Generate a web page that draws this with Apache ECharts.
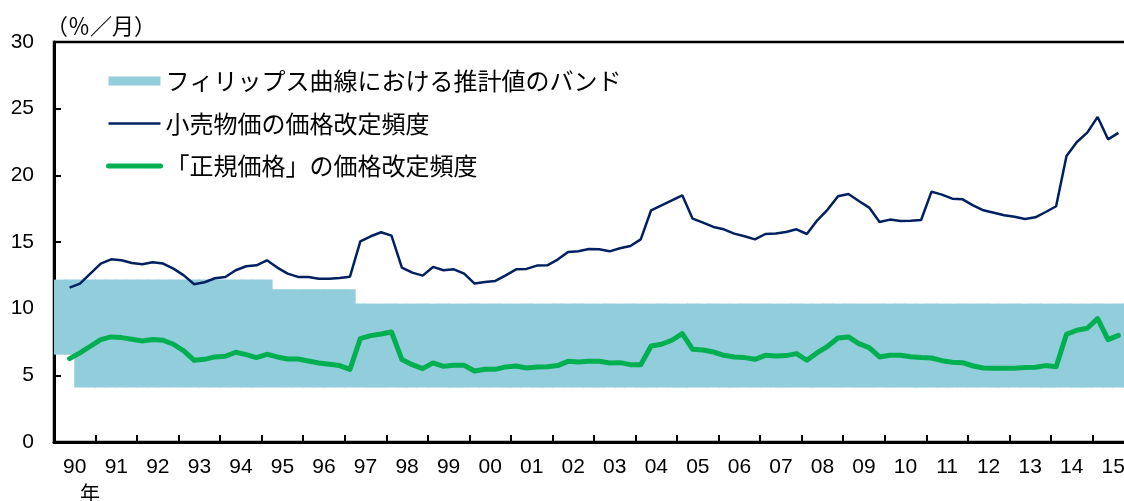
<!DOCTYPE html>
<html>
<head>
<meta charset="utf-8">
<script src="https://cdn.jsdelivr.net/npm/echarts@6/dist/echarts.min.js"></script>
<style>
html, body { margin: 0; padding: 0; background: #fff; }
#chart { width: 1124px; height: 501px; }
</style>
</head>
<body>
<div id="chart"></div>
<script>
// 年ラベル（横軸）
const yearLabels = ['90', '91', '92', '93', '94', '95', '96', '97', '98', '99',
  '00', '01', '02', '03', '04', '05', '06', '07', '08', '09',
  '10', '11', '12', '13', '14', '15']
// 四半期カテゴリ 1990Q1〜2015Q4
const quarters = []
for (let y = 1990; y <= 2015; y++) {
  for (let q = 1; q <= 4; q++) quarters.push(y + 'Q' + q)
}

// 小売物価の価格改定頻度（1990Q2〜2015Q3）
const retailFreq = [null,
  11.58, 11.88, 12.63, 13.38, 13.70, 13.63, 13.43, 13.33, 13.48, 13.38,
  13.0, 12.5, 11.83, 11.98, 12.28, 12.38, 12.88, 13.18, 13.25, 13.63,
  13.08, 12.63, 12.38, 12.38, 12.25, 12.25, 12.3, 12.4,
  15.05, 15.43, 15.73, 15.48, 13.08, 12.7, 12.48, 13.13, 12.88, 12.95,
  12.63, 11.88, 12.0, 12.08, 12.5, 12.95, 12.98, 13.23, 13.25, 13.68,
  14.25, 14.3, 14.48, 14.45, 14.3, 14.53, 14.7,
  15.2, 17.38, 17.75, 18.13, 18.5, 16.75, 16.45, 16.13, 15.95, 15.63,
  15.43, 15.2, 15.6, 15.63, 15.75, 15.95, 15.6, 16.63, 17.43, 18.43,
  18.6, 18.08, 17.58, 16.5, 16.68, 16.58, 16.6, 16.65, 18.78, 18.55,
  18.25, 18.2, 17.75, 17.38, 17.2, 17.0, 16.9, 16.73, 16.85, 17.25,
  17.68, 21.45, 22.5, 23.2, 24.38, 22.7, 23.18,
  null]

// 「正規価格」の価格改定頻度
const regularFreq = [null,
  6.25, 6.68, 7.18, 7.68, 7.88, 7.83, 7.7, 7.58, 7.68, 7.63,
  7.33, 6.83, 6.13, 6.2, 6.38, 6.43, 6.73, 6.55, 6.33, 6.58,
  6.38, 6.23, 6.23, 6.08, 5.93, 5.83, 5.73, 5.45, 7.76, 7.98,
  8.1, 8.25,
  6.18, 5.8, 5.5, 5.93, 5.68, 5.75, 5.75, 5.33, 5.45, 5.45,
  5.63, 5.7, 5.55, 5.63, 5.65, 5.73, 6.05, 6.0, 6.05, 6.05,
  5.93, 5.95, 5.8, 5.8, 7.2, 7.33, 7.63, 8.13, 6.95, 6.9,
  6.75, 6.5, 6.38, 6.33, 6.2,
  6.5, 6.45, 6.48, 6.63, 6.13, 6.7, 7.18, 7.8, 7.88, 7.38,
  7.08, 6.38, 6.5, 6.5, 6.4, 6.33, 6.3, 6.1, 5.98, 5.95,
  5.7, 5.55, 5.53, 5.53, 5.53, 5.58, 5.6, 5.73, 5.65, 8.08,
  8.38, 8.53, 9.25, 7.68, 8.0,
  null]

// バンド [開始四半期index, 値]
const bandLowerSteps = [[0, 6.55], [2, 4.08]]
const bandUpperSteps = [[0, 12.18], [21, 11.45], [29, 10.38]]

const bandName = 'フィリップス曲線における推計値のバンド'
const retailName = '小売物価の価格改定頻度'
const regularName = '「正規価格」の価格改定頻度'

function expandSteps(steps) {
  return quarters.map((q, i) => {
    let v = null
    steps.forEach(s => { if (i >= s[0]) v = s[1] })
    return v
  })
}
const bandLower = expandSteps(bandLowerSteps)
const bandUpper = expandSteps(bandUpperSteps)
const bandWidth = bandUpper.map((v, i) => +(v - bandLower[i]).toFixed(2))

const numFont = 'Liberation Sans'
const jpFont = 'Noto Sans CJK JP'

let chart = echarts.init(document.getElementById('chart'))
let option = {
  animation: false,
  title: {
    text: '（％／月）',
    left: 46,
    top: 15,
    padding: 0,
    textStyle: { fontSize: 22, fontWeight: 'normal', color: '#000', fontFamily: jpFont }
  },
  legend: {
    orient: 'vertical',
    left: 106,
    top: 69,
    padding: 0,
    itemWidth: 52,
    itemHeight: 9,
    itemGap: 18.5,
    selectedMode: false,
    textStyle: { fontSize: 24, color: '#000', fontFamily: jpFont },
    data: [
      { name: bandName, icon: 'rect', itemStyle: { borderWidth: 0 } },
      { name: retailName, itemStyle: { opacity: 0 }, lineStyle: { width: 2.5 } },
      { name: regularName, itemStyle: { opacity: 0 }, lineStyle: { width: 5, cap: 'round' } }
    ]
  },
  grid: {
    show: true,
    left: 54,
    right: -10,
    top: 42,
    bottom: 59,
    borderColor: '#000',
    borderWidth: 2.5,
    outerBoundsMode: 'none'
  },
  xAxis: [
    {
      // 四半期軸（系列用、非表示）
      type: 'category',
      data: quarters,
      position: 'top',
      axisLine: { show: false },
      axisTick: { show: false },
      axisLabel: { show: false }
    },
    {
      type: 'category',
      data: yearLabels,
      position: 'bottom',
      axisLine: { show: true, onZero: false, lineStyle: { color: '#000', width: 3 } },
      axisTick: { show: true, inside: true, length: 7, interval: 0, lineStyle: { color: '#000', width: 2 } },
      axisLabel: { interval: 0, color: '#000', fontSize: 21, fontFamily: numFont, margin: 15 }
    }
  ],
  yAxis: {
    type: 'value',
    min: 0,
    max: 30,
    interval: 5,
    axisLine: { show: true, lineStyle: { color: '#000', width: 3 } },
    axisTick: { show: true, inside: true, length: 7, lineStyle: { color: '#000', width: 2 } },
    axisLabel: { color: '#000', fontSize: 21, fontFamily: numFont, margin: 20 },
    splitLine: { show: false }
  },
  series: [
    {
      name: 'base',
      type: 'bar',
      stack: 'band',
      xAxisIndex: 0,
      barWidth: 11.4,
      silent: true,
      itemStyle: { color: 'transparent' },
      data: bandLower
    },
    {
      name: bandName,
      type: 'bar',
      stack: 'band',
      xAxisIndex: 0,
      barWidth: 11.4,
      silent: true,
      itemStyle: { color: '#92CDDC' },
      data: bandWidth
    },
    {
      name: retailName,
      type: 'line',
      xAxisIndex: 0,
      symbol: 'none',
      color: '#002060',
      lineStyle: { width: 2.5, color: '#002060' },
      data: retailFreq
    },
    {
      name: regularName,
      type: 'line',
      xAxisIndex: 0,
      symbol: 'none',
      color: '#00B050',
      lineStyle: { width: 5, color: '#00B050', cap: 'round', join: 'round' },
      data: regularFreq
    }
  ],
  graphic: [
    {
      type: 'text',
      left: 80,
      top: 483,
      style: { text: '年', fontSize: 20, fill: '#000', fontFamily: jpFont }
    }
  ]
}
chart.setOption(option)
</script>
</body>
</html>
